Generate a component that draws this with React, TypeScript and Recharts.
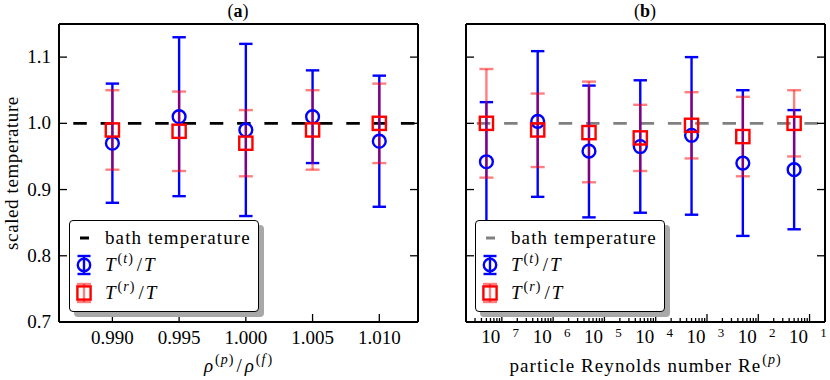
import React from 'react';
import { ScatterChart, Scatter, ErrorBar, XAxis, YAxis, ReferenceLine, Legend, Label } from 'recharts';

// ---------- data: panel (a) ----------
const densityRatios = [0.99, 0.995, 1.0, 1.005, 1.01];
const transTempA = [0.97, 1.01, 0.99, 1.01, 0.973];
const transLowA = [0.88, 0.89, 0.86, 0.94, 0.874];
const transHighA = [1.06, 1.13, 1.12, 1.08, 1.072];
const rotTempA = [0.99, 0.988, 0.97, 0.99, 1.0];
const rotLowA = [0.93, 0.928, 0.92, 0.93, 0.94];
const rotHighA = [1.05, 1.048, 1.02, 1.05, 1.06];

// ---------- data: panel (b) ----------
const reynolds = [5e-8, 5e-7, 5e-6, 5e-5, 5e-4, 5e-3, 5e-2];
const transTempB = [0.942, 1.003, 0.958, 0.965, 0.982, 0.94, 0.93];
const transLowB = [0.852, 0.889, 0.858, 0.865, 0.862, 0.83, 0.84];
const transHighB = [1.032, 1.109, 1.057, 1.065, 1.1, 1.05, 1.02];
const rotTempB = [1.0, 0.99, 0.986, 0.978, 0.997, 0.98, 1.0];
const rotLowB = [0.918, 0.934, 0.911, 0.928, 0.947, 0.92, 0.95];
const rotHighB = [1.082, 1.045, 1.063, 1.028, 1.047, 1.04, 1.05];

// ---------- ticks ----------
const yTicks = [0.7, 0.8, 0.9, 1.0, 1.1];
const xTicksA = [0.99, 0.995, 1.0, 1.005, 1.01];
const majorTicksB = [1e-7, 1e-6, 1e-5, 1e-4, 1e-3, 1e-2, 1e-1];
const majorLabelsB = ['7', '6', '5', '4', '3', '2', '1'];
const minorMultipliers = [2, 3, 4, 5, 6, 7, 8, 9];
const decadesB = [1e-8, 1e-7, 1e-6, 1e-5, 1e-4, 1e-3, 1e-2];
const bathTemperature = 1.0;

const domainXA: [number, number] = [0.986, 1.0129];
const domainXB: [number, number] = [2e-8, 0.2];
const domainY: [number, number] = [0.7, 1.15];

const minorTicksB: number[] = [];
decadesB.forEach((d) =>
  minorMultipliers.forEach((m) => {
    const v = m * d;
    if (v > 2.05e-8 && v < 0.19) minorTicksB.push(v);
  })
);
const allTicksB = [...minorTicksB, ...majorTicksB].sort((a, b) => a - b);

type Pt = { x: number; y: number; err: [number, number] };
const makeSeries = (xs: number[], ys: number[], lo: number[], hi: number[]): Pt[] =>
  xs.map((x, i) => ({ x, y: ys[i], err: [ys[i] - lo[i], hi[i] - ys[i]] as [number, number] }));

const transA = makeSeries(densityRatios, transTempA, transLowA, transHighA);
const rotA = makeSeries(densityRatios, rotTempA, rotLowA, rotHighA);
const transB = makeSeries(reynolds, transTempB, transLowB, transHighB);
const rotB = makeSeries(reynolds, rotTempB, rotLowB, rotHighB);

// ---------- styles ----------
const FONT = '"Liberation Serif", "Times New Roman", Times, serif';
const BLUE = '#0000ff';
const RED = '#ff0000';
const RED_BAR = 'rgba(255,0,0,0.5)';
const TK = 1.3;
const FS = 19;
const SUP = 14;
const AXIS_LINE = { stroke: '#000', strokeWidth: 2 };

// ---------- marks ----------
const CircleMark = (p: any) => (
  <circle cx={p.cx} cy={p.cy} r={6.4} fill="none" stroke={BLUE} strokeWidth={2.4} />
);
const SquareMark = (p: any) => (
  <rect x={p.cx - 6.6} y={p.cy - 6.6} width={13.2} height={13.2} fill="none" stroke={RED} strokeWidth={2.4} />
);

// ---------- ticks ----------
const LeftTick = (p: any) => (
  <g>
    <line x1={p.x} y1={p.y} x2={p.x + 8} y2={p.y} stroke="#000" strokeWidth={TK} />
    {p.showLabel && (
      <text x={p.x - 8} y={p.y + 6} textAnchor="end" fontFamily={FONT} fontSize={FS} fill="#000">
        {Number(p.payload.value).toFixed(1)}
      </text>
    )}
  </g>
);
const RightTick = (p: any) => (
  <line x1={p.x} y1={p.y} x2={p.x - 8} y2={p.y} stroke="#000" strokeWidth={TK} />
);
const BottomTickA = (p: any) => (
  <g>
    <line x1={p.x} y1={p.y} x2={p.x} y2={p.y - 8} stroke="#000" strokeWidth={TK} />
    <text x={p.x} y={p.y + 22} textAnchor="middle" fontFamily={FONT} fontSize={FS} fill="#000">
      {Number(p.payload.value).toFixed(3)}
    </text>
  </g>
);
const TopTickA = (p: any) => (
  <line x1={p.x} y1={p.y} x2={p.x} y2={p.y + 8} stroke="#000" strokeWidth={TK} />
);
const majorIndex = (v: number) => majorTicksB.findIndex((m) => Math.abs(v / m - 1) < 1e-6);
const BottomTickB = (p: any) => {
  const idx = majorIndex(p.payload.value);
  if (idx < 0) return <line x1={p.x} y1={p.y} x2={p.x} y2={p.y - 4} stroke="#000" strokeWidth={TK} />;
  return (
    <g>
      <line x1={p.x} y1={p.y} x2={p.x} y2={p.y - 8} stroke="#000" strokeWidth={TK} />
      <text x={p.x - 11} y={p.y + 21} textAnchor="middle" fontFamily={FONT} fontSize={FS} fill="#000">10</text>
      <text x={p.x + 14} y={p.y + 15} textAnchor="middle" fontFamily={FONT} fontSize={13} fill="#000">
        {majorLabelsB[idx]}
      </text>
    </g>
  );
};
const TopTickB = (p: any) => {
  const idx = majorIndex(p.payload.value);
  return <line x1={p.x} y1={p.y} x2={p.x} y2={p.y + (idx < 0 ? 4 : 8)} stroke="#000" strokeWidth={TK} />;
};

// ---------- legend ----------
const Sup = ({ children }: { children: React.ReactNode }) => (
  <span style={{ fontSize: SUP, position: 'relative', top: -8, margin: '0 3px 0 2px', letterSpacing: 1 }}>{children}</span>
);
const LegendBox = ({ dashColor }: { dashColor: string }) => {
  const row = (top: number, icon: React.ReactNode, label: React.ReactNode) => (
    <div style={{ position: 'absolute', left: 0, top, height: 27, width: '100%' }}>
      <svg width={26} height={27} style={{ position: 'absolute', left: 1, top: 0 }}>{icon}</svg>
      <div style={{ position: 'absolute', left: 35, top: 0, lineHeight: '27px', whiteSpace: 'nowrap' }}>{label}</div>
    </div>
  );
  return (
    <div
      style={{
        position: 'relative',
        width: 190,
        height: 92,
        boxSizing: 'border-box',
        border: '1.3px solid #000',
        borderRadius: 4,
        background: '#fff',
        boxShadow: '5px 5px 0 #a8a8a8',
        fontFamily: FONT,
        fontSize: FS,
        color: '#000',
      }}
    >
      {row(3, <line x1={9} y1={14} x2={18} y2={14} stroke={dashColor} strokeWidth={3} />, (
        <span style={{ letterSpacing: 1.1 }}>bath temperature</span>
      ))}
      {row(30, (
        <g>
          <line x1={13} y1={5} x2={13} y2={23} stroke={BLUE} strokeWidth={2.4} />
          <line x1={6.5} y1={5} x2={19.5} y2={5} stroke={BLUE} strokeWidth={2.4} />
          <line x1={6.5} y1={23} x2={19.5} y2={23} stroke={BLUE} strokeWidth={2.4} />
          <circle cx={13} cy={14} r={6.2} fill="none" stroke={BLUE} strokeWidth={2.4} />
        </g>
      ), (
        <span><i>T</i><Sup>(<i>t</i>)</Sup>/<i style={{ marginLeft: 2 }}>T</i></span>
      ))}
      {row(58, (
        <g>
          <line x1={13} y1={5} x2={13} y2={23} stroke={RED_BAR} strokeWidth={2.4} />
          <line x1={6} y1={5} x2={20} y2={5} stroke={RED_BAR} strokeWidth={2.4} />
          <line x1={6} y1={23} x2={20} y2={23} stroke={RED_BAR} strokeWidth={2.4} />
          <rect x={6.4} y={7.4} width={13.2} height={13.2} fill="none" stroke={RED} strokeWidth={2.4} />
        </g>
      ), (
        <span><i>T</i><Sup>(<i>r</i>)</Sup>/<i style={{ marginLeft: 2 }}>T</i></span>
      ))}
    </div>
  );
};

// ---------- panels ----------
const PanelA = () => (
  <ScatterChart width={430} height={380} margin={{ top: 0, right: 0, bottom: 0, left: 0 }}>
    <XAxis
      xAxisId="b" dataKey="x" type="number" orientation="bottom" height={58}
      domain={domainXA} allowDataOverflow ticks={xTicksA} interval={0}
      tickLine={false} tickSize={0} tickMargin={0} axisLine={AXIS_LINE}
      tick={(p: any) => <BottomTickA {...p} />}
    >
      <Label
        content={() => (
          <text x={238} y={372} textAnchor="middle" fontFamily={FONT} fontSize={FS} fill="#000">
            <tspan fontStyle="italic">ρ</tspan>
            <tspan fontSize={SUP} dy={-8} dx={2}>(</tspan>
            <tspan fontSize={SUP} fontStyle="italic" dx={1}>p</tspan>
            <tspan fontSize={SUP} dx={1}>)</tspan>
            <tspan dy={8} dx={3}>/</tspan>
            <tspan fontStyle="italic" dx={3}>ρ</tspan>
            <tspan fontSize={SUP} dy={-8} dx={2}>(</tspan>
            <tspan fontSize={SUP} fontStyle="italic" dx={1}>f</tspan>
            <tspan fontSize={SUP} dx={2}>)</tspan>
          </text>
        )}
      />
    </XAxis>
    <XAxis
      xAxisId="t" type="number" orientation="top" height={24}
      domain={domainXA} allowDataOverflow ticks={xTicksA} interval={0}
      tickLine={false} tickSize={0} tickMargin={0} axisLine={AXIS_LINE}
      tick={(p: any) => <TopTickA {...p} />}
    >
      <Label
        content={() => (
          <text x={238} y={16.5} textAnchor="middle" fontFamily={FONT} fontSize={18} fill="#000">
            (<tspan fontWeight="bold">a</tspan>)
          </text>
        )}
      />
    </XAxis>
    <YAxis
      yAxisId="l" dataKey="y" type="number" orientation="left" width={59}
      domain={domainY} allowDataOverflow ticks={yTicks} interval={0}
      tickLine={false} tickSize={0} tickMargin={0} axisLine={AXIS_LINE}
      tick={(p: any) => <LeftTick {...p} showLabel />}
    >
      <Label
        content={() => (
          <text transform="translate(18,173) rotate(-90)" x={0} y={0} textAnchor="middle" fontFamily={FONT} fontSize={FS} fill="#000" letterSpacing={0.6}>
            scaled temperature
          </text>
        )}
      />
    </YAxis>
    <YAxis
      yAxisId="r" type="number" orientation="right" width={12}
      domain={domainY} allowDataOverflow ticks={yTicks} interval={0}
      tickLine={false} tickSize={0} tickMargin={0} axisLine={AXIS_LINE}
      tick={(p: any) => <RightTick {...p} />}
    />
    <ReferenceLine
      xAxisId="b" yAxisId="l" y={bathTemperature}
      stroke="#000" strokeWidth={2.6} strokeDasharray="13.5 13.8" strokeDashoffset={13}
    />
    <Scatter xAxisId="b" yAxisId="l" data={transA} shape={CircleMark} isAnimationActive={false}>
      <ErrorBar dataKey="err" direction="y" width={6.7} stroke={BLUE} strokeWidth={2.4} isAnimationActive={false} />
    </Scatter>
    <Scatter xAxisId="b" yAxisId="l" data={rotA} shape={SquareMark} isAnimationActive={false}>
      <ErrorBar dataKey="err" direction="y" width={7} stroke={RED_BAR} strokeWidth={2.4} isAnimationActive={false} />
    </Scatter>
    <Legend
      layout="horizontal" verticalAlign="middle" align="center"
      wrapperStyle={{ left: 69, top: 220, width: 196, height: 98 }}
      content={() => <LegendBox dashColor="#000" />}
    />
  </ScatterChart>
);

const PanelB = () => (
  <ScatterChart width={400} height={380} margin={{ top: 0, right: 0, bottom: 0, left: 0 }}>
    <XAxis
      xAxisId="b" dataKey="x" type="number" scale="log" orientation="bottom" height={58}
      domain={domainXB} allowDataOverflow ticks={allTicksB} interval={0}
      tickLine={false} tickSize={0} tickMargin={0} axisLine={AXIS_LINE}
      tick={(p: any) => <BottomTickB {...p} />}
    >
      <Label
        content={() => (
          <text x={215} y={372} textAnchor="middle" fontFamily={FONT} fontSize={FS} fill="#000">
            <tspan letterSpacing={1.1}>particle Reynolds number Re</tspan>
            <tspan fontSize={SUP} dy={-8} dx={1}>(</tspan>
            <tspan fontSize={SUP} fontStyle="italic" dx={1}>p</tspan>
            <tspan fontSize={SUP} dx={1}>)</tspan>
          </text>
        )}
      />
    </XAxis>
    <XAxis
      xAxisId="t" type="number" scale="log" orientation="top" height={24}
      domain={domainXB} allowDataOverflow ticks={allTicksB} interval={0}
      tickLine={false} tickSize={0} tickMargin={0} axisLine={AXIS_LINE}
      tick={(p: any) => <TopTickB {...p} />}
    >
      <Label
        content={() => (
          <text x={215} y={16.5} textAnchor="middle" fontFamily={FONT} fontSize={18} fill="#000">
            (<tspan fontWeight="bold">b</tspan>)
          </text>
        )}
      />
    </XAxis>
    <YAxis
      yAxisId="l" dataKey="y" type="number" orientation="left" width={36}
      domain={domainY} allowDataOverflow ticks={yTicks} interval={0}
      tickLine={false} tickSize={0} tickMargin={0} axisLine={AXIS_LINE}
      tick={(p: any) => <LeftTick {...p} />}
    />
    <YAxis
      yAxisId="r" type="number" orientation="right" width={5}
      domain={domainY} allowDataOverflow ticks={yTicks} interval={0}
      tickLine={false} tickSize={0} tickMargin={0} axisLine={AXIS_LINE}
      tick={(p: any) => <RightTick {...p} />}
    />
    <ReferenceLine
      xAxisId="b" yAxisId="l" y={bathTemperature}
      stroke="#808080" strokeWidth={2.6} strokeDasharray="13.5 13.8" strokeDashoffset={16.5}
    />
    <Scatter xAxisId="b" yAxisId="l" data={transB} shape={CircleMark} isAnimationActive={false}>
      <ErrorBar dataKey="err" direction="y" width={6.7} stroke={BLUE} strokeWidth={2.4} isAnimationActive={false} />
    </Scatter>
    <Scatter xAxisId="b" yAxisId="l" data={rotB} shape={SquareMark} isAnimationActive={false}>
      <ErrorBar dataKey="err" direction="y" width={7} stroke={RED_BAR} strokeWidth={2.4} isAnimationActive={false} />
    </Scatter>
    <Legend
      layout="horizontal" verticalAlign="middle" align="center"
      wrapperStyle={{ left: 45, top: 220, width: 196, height: 98 }}
      content={() => <LegendBox dashColor="#808080" />}
    />
  </ScatterChart>
);

export default function App() {
  return (
    <div style={{ position: 'absolute', left: 0, top: 0, width: 830, height: 380, background: '#fff', fontFamily: FONT, overflow: 'hidden' }}>
      <div style={{ position: 'absolute', left: 0, top: 0 }}>
        <PanelA />
      </div>
      <div style={{ position: 'absolute', left: 430, top: 0 }}>
        <PanelB />
      </div>
    </div>
  );
}
